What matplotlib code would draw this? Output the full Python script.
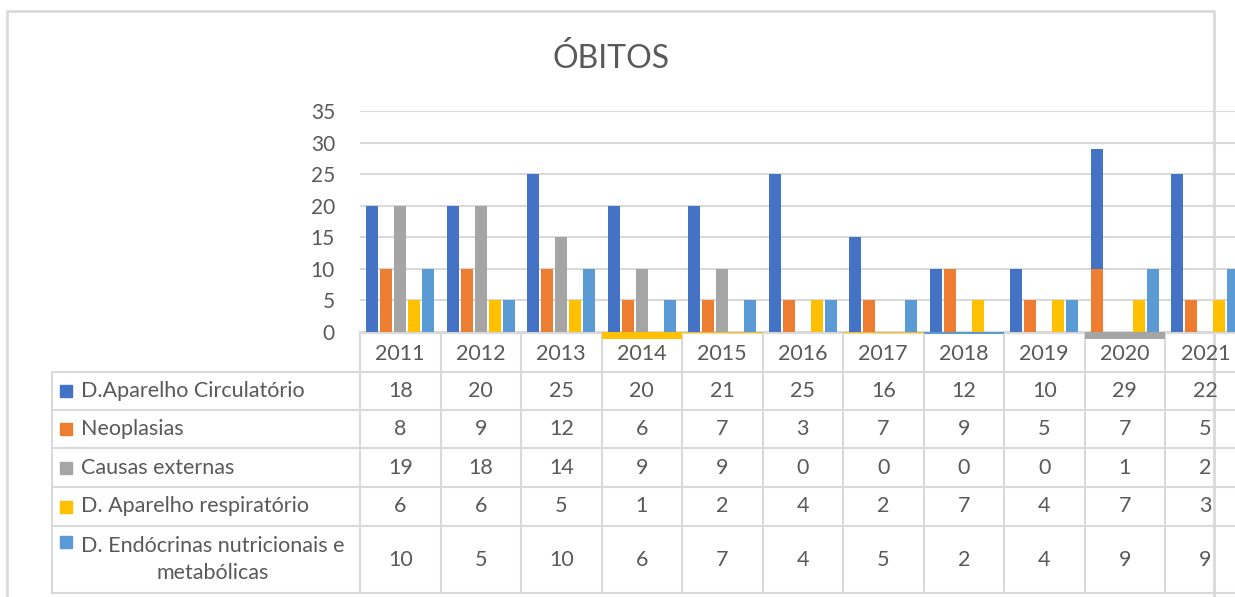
import numpy as np
import matplotlib.pyplot as plt

plt.rcParams['font.family'] = ['Lato', 'DejaVu Sans']

years = ['2011', '2012', '2013', '2014', '2015', '2016', '2017', '2018', '2019', '2020', '2021']
series = ['D.Aparelho Circulatório', 'Neoplasias', 'Causas externas',
          'D. Aparelho respiratório', 'D. Endócrinas nutricionais e\nmetabólicas']
colors = ['#4472C4', '#ED7D31', '#A5A5A5', '#FFC000', '#5B9BD5']

# values shown in the data table
circulatorio = [18, 20, 25, 20, 21, 25, 16, 12, 10, 29, 22]
neoplasias = [8, 9, 12, 6, 7, 3, 7, 9, 5, 7, 5]
causas_externas = [19, 18, 14, 9, 9, 0, 0, 0, 0, 1, 2]
respiratorio = [6, 6, 5, 1, 2, 4, 2, 7, 4, 7, 3]
endocrinas = [10, 5, 10, 6, 7, 4, 5, 2, 4, 9, 9]

# bar heights as drawn in the picture
bar_circ = [20, 20, 25, 20, 20, 25, 15, 10, 10, 29, 25]
bar_neo = [10, 10, 10, 5, 5, 5, 5, 10, 5, 10, 5]
bar_ext = [20, 20, 15, 10, 10, 0, 0, 0, 0, 0, 0]
bar_resp = [5, 5, 5, 0, 0, 5, 0, 5, 5, 5, 5]
bar_endo = [10, 5, 10, 5, 5, 5, 5, 0, 5, 10, 10]

# strips drawn under the axis
strip_years = ['2014', '2015', '2017', '2018', '2020']
strip_series = [3, 3, 3, 4, 2]
strip_depth = [1.1, 0.2, 0.2, 0.3, 1.1]

table = [circulatorio, neoplasias, causas_externas, respiratorio, endocrinas]
bars = [bar_circ, bar_neo, bar_ext, bar_resp, bar_endo]

W, H = 1235, 597
txt = '#595959'
line = '#D9D9D9'
x0, colw = 360, 80.5
y0, ytop = 332, 111

fig = plt.figure(figsize=(W / 100, H / 100), dpi=100)

# table / frame layer in pixel coords
tb = fig.add_axes([0, 0, 1, 1])
tb.set_xlim(0, W)
tb.set_ylim(H, 0)
tb.axis('off')

# outer frame
tb.plot([7, 7, 1214, 1214], [H, 11, 11, H], color=line, lw=2)
tb.text(611, 58, 'ÓBITOS', ha='center', va='center', fontsize=23, color=txt)

rows = [372, 410, 448, 487, 526, 593]
for r in rows:
    tb.plot([52, W], [r, r], color=line, lw=1.5)
tb.plot([x0, W], [y0 + 1, y0 + 1], color=line, lw=1.5)
tb.plot([52, 52], [rows[0], rows[-1]], color=line, lw=1.5)
for k in range(len(years) + 1):
    xx = x0 + k * colw
    tb.plot([xx, xx], [y0, rows[-1]], color=line, lw=1.5)

for i, yr in enumerate(years):
    cx = x0 + (i + 0.5) * colw
    tb.text(cx, 354, yr, ha='center', va='center', fontsize=15.5, color=txt)
    for j in range(len(series)):
        cy = (rows[j] + rows[j + 1]) / 2
        tb.text(cx, cy, str(table[j][i]), ha='center', va='center', fontsize=15.5, color=txt)

for j, name in enumerate(series):
    cy = (rows[j] + rows[j + 1]) / 2
    if '\n' in name:
        tb.add_patch(plt.Rectangle((60, 536), 12, 12, color=colors[j]))
        tb.text(81, cy, name, ha='left', va='center', fontsize=15.5, color=txt,
                multialignment='center', linespacing=1.45)
    else:
        tb.add_patch(plt.Rectangle((60, cy - 6), 12, 12, color=colors[j]))
        tb.text(81, cy, name, ha='left', va='center', fontsize=15.5, color=txt)

# bar chart
ax = fig.add_axes([x0 / W, (H - y0) / H, len(years) * colw / W, (y0 - ytop) / H])
ax.patch.set_visible(False)
x = np.arange(len(years))
bw, step = 12 / colw, 14 / colw
for j in range(len(series)):
    for i in range(len(years)):
        slot = j
        if j == 1 and years[i] == '2020':
            slot = 0  # orange sits on top of the blue bar in 2020
        if bars[j][i] > 0:
            ax.bar(x[i] + (slot - 2) * step, bars[j][i], width=bw, color=colors[j], zorder=3)

for yr, s, d in zip(strip_years, strip_series, strip_depth):
    ax.bar(years.index(yr), -d, width=1.0, color=colors[s], zorder=4, clip_on=False)

ax.set_xlim(-0.5, len(years) - 0.5)
ax.set_ylim(0, 35)
ax.set_yticks(range(0, 36, 5))
ax.set_xticks([])
ax.yaxis.grid(True, color=line, lw=1.5)
ax.set_axisbelow(True)
for sp in ax.spines.values():
    sp.set_visible(False)
ax.tick_params(axis='y', length=0, pad=18, labelsize=15, labelcolor=txt)

fig.savefig('out.png', dpi=100)
